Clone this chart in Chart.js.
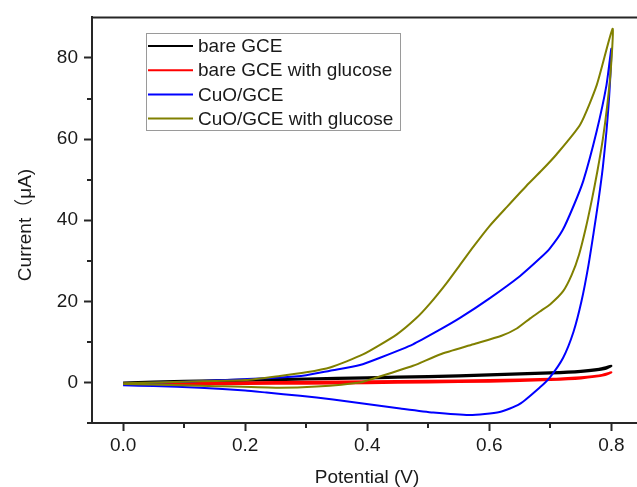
<!DOCTYPE html>
<html>
<head>
<meta charset="utf-8">
<title>CV curves</title>
<script src="https://cdn.jsdelivr.net/npm/chart.js@4.4.1/dist/chart.umd.min.js"></script>
<style>
  html, body { margin: 0; padding: 0; background: #fff; overflow: hidden; }
  #cv { display: block; }
</style>
</head>
<body>
<canvas id="cv" width="637" height="487"></canvas>
<script>
// Series names (legend order)
const seriesNames = ['bare GCE', 'bare GCE with glucose', 'CuO/GCE', 'CuO/GCE with glucose'];

// bare GCE
const bareV = [0, 0.1, 0.2, 0.3, 0.4, 0.5, 0.6, 0.7, 0.75, 0.78, 0.8, 0.79, 0.75, 0.7, 0.6, 0.5, 0.4, 0.3, 0.2, 0.1, 0];
const bareI = [0.0, 0.4, 0.7, 1.0, 1.3, 1.6, 2.0, 2.5, 2.9, 3.4, 4.1, 3.3, 2.6, 2.2, 1.7, 1.3, 1.0, 0.7, 0.4, 0.1, -0.2];

// bare GCE with glucose
const bareGluV = [0, 0.1, 0.2, 0.3, 0.4, 0.5, 0.6, 0.7, 0.75, 0.78, 0.8, 0.79, 0.75, 0.7, 0.6, 0.5, 0.4, 0.3, 0.2, 0.1, 0];
const bareGluI = [-0.3, -0.1, 0.0, 0.2, 0.3, 0.4, 0.6, 0.9, 1.3, 1.7, 2.5, 1.8, 1.0, 0.6, 0.2, 0.0, -0.2, -0.3, -0.4, -0.5, -0.5];

// CuO/GCE
const cuoV = [0, 0.1, 0.2, 0.257, 0.3, 0.339, 0.388, 0.421, 0.475, 0.519, 0.552, 0.601, 0.65, 0.683, 0.699, 0.72, 0.738, 0.754, 0.776, 0.792, 0.8,
              0.797, 0.792, 0.786, 0.779, 0.771, 0.762, 0.751, 0.738, 0.721, 0.699, 0.683, 0.65, 0.617, 0.568, 0.508, 0.454, 0.399, 0.344, 0.29, 0.235, 0.2, 0.126, 0.05, 0];
const cuoI = [-0.3, 0.2, 0.8, 1.2, 1.8, 2.9, 4.3, 6.1, 9.4, 13.0, 15.9, 20.8, 26.2, 30.6, 33.0, 37.5, 43.5, 49.7, 62.0, 73.3, 82.3,
              72.0, 62.0, 53.0, 45.0, 37.0, 28.5, 20.0, 12.5, 6.1, 1.2, -1.2, -5.3, -7.3, -8.0, -7.4, -6.4, -5.3, -4.2, -3.3, -2.5, -2.0, -1.3, -0.9, -0.7];

// CuO/GCE with glucose
const cuoGluV = [0, 0.1, 0.2, 0.257, 0.3, 0.339, 0.393, 0.448, 0.48, 0.503, 0.53, 0.552, 0.574, 0.6, 0.629, 0.661, 0.686, 0.71, 0.749, 0.776, 0.802,
                 0.799, 0.793, 0.786, 0.777, 0.768, 0.758, 0.747, 0.735, 0.721, 0.7, 0.683, 0.667, 0.645, 0.62, 0.574, 0.519, 0.475, 0.415, 0.388, 0.317, 0.25, 0.126, 0];
const cuoGluI = [-0.2, 0.2, 0.6, 1.6, 2.5, 3.7, 6.9, 11.8, 15.8, 19.5, 24.5, 29.0, 33.5, 38.5, 43.3, 48.5, 52.3, 56.2, 63.6, 73.3, 87.2,
                 77.0, 68.0, 60.0, 52.0, 45.0, 38.0, 31.5, 26.5, 22.5, 19.3, 17.5, 15.8, 13.3, 11.5, 9.4, 6.9, 4.1, 1.2, 0.0, -1.0, -1.3, -0.8, -0.4];

// Ticks
const xMajor = [0, 0.2, 0.4, 0.6, 0.8];
const xMinor = [0.1, 0.3, 0.5, 0.7];
const yMajor = [0, 20, 40, 60, 80];
const yMinor = [-10, 10, 30, 50, 70];

const colors = ['#000000', '#ff0000', '#0000ff', '#808000'];
const axisColor = '#262626';
const fontFamily = "'Liberation Sans', Arial, 'Noto Sans CJK SC', sans-serif";

function toPoints(xs, ys) {
    return xs.map((x, i) => ({ x: x, y: ys[i] }));
}

const seriesData = [
    toPoints(bareV, bareI),
    toPoints(bareGluV, bareGluI),
    toPoints(cuoV, cuoI),
    toPoints(cuoGluV, cuoGluI)
];

// legend, top border, minor ticks and axis titles
const extras = {
    id: 'extras',
    afterDraw(chart) {
        const ctx = chart.ctx;
        const area = chart.chartArea;
        const xs = chart.scales.x;
        const ys = chart.scales.y;
        ctx.save();

        ctx.strokeStyle = axisColor;
        ctx.lineWidth = 2;
        ctx.beginPath();
        ctx.moveTo(area.left - 1, area.top);
        ctx.lineTo(area.right, area.top);
        ctx.stroke();

        // minor ticks
        ctx.beginPath();
        xMinor.forEach(v => {
            const px = Math.round(xs.getPixelForValue(v));
            ctx.moveTo(px, area.bottom);
            ctx.lineTo(px, area.bottom + 5);
        });
        yMinor.forEach(v => {
            const py = Math.round(ys.getPixelForValue(v));
            ctx.moveTo(area.left, py);
            ctx.lineTo(area.left - 5, py);
        });
        ctx.stroke();

        // legend box
        const lx = 146.5, ly = 33.5, lw = 254, lh = 97;
        ctx.fillStyle = '#fff';
        ctx.fillRect(lx, ly, lw, lh);
        ctx.strokeStyle = '#9a9a9a';
        ctx.lineWidth = 1;
        ctx.strokeRect(lx, ly, lw, lh);
        ctx.font = '19px ' + fontFamily;
        ctx.textBaseline = 'middle';
        ctx.textAlign = 'left';
        seriesNames.forEach((name, i) => {
            const y = 46 + i * 24.2;
            ctx.strokeStyle = colors[i];
            ctx.lineWidth = 2;
            ctx.beginPath();
            ctx.moveTo(148, y);
            ctx.lineTo(193, y);
            ctx.stroke();
            ctx.fillStyle = '#1a1a1a';
            ctx.fillText(name, 198, y + 1);
        });

        // axis titles
        ctx.fillStyle = '#1a1a1a';
        ctx.font = '19px ' + fontFamily;
        ctx.textAlign = 'center';
        ctx.textBaseline = 'alphabetic';
        ctx.fillText('Potential (V)', 367, 483);
        ctx.translate(31, 225);
        ctx.rotate(-Math.PI / 2);
        ctx.fillText('Current（μA)', 0, 0);

        ctx.restore();
    }
};

new Chart(document.getElementById('cv').getContext('2d'), {
    type: 'scatter',
    data: {
        datasets: seriesNames.map((name, i) => ({
            label: name,
            data: seriesData[i],
            showLine: true,
            borderColor: colors[i],
            backgroundColor: colors[i],
            borderWidth: 2,
            pointRadius: 0,
            tension: 0.2,
            order: 4 - i
        }))
    },
    options: {
        responsive: false,
        animation: false,
        layout: { padding: { top: 13, left: 0, right: 0, bottom: 0 } },
        plugins: {
            legend: { display: false },
            tooltip: { enabled: false }
        },
        scales: {
            x: {
                type: 'linear',
                min: -0.051,
                max: 0.842,
                afterBuildTicks: scale => {
                    scale.ticks = xMajor.concat(xMinor).sort((a, b) => a - b).map(v => ({ value: v }));
                },
                afterFit: scale => { scale.height = 64; },
                ticks: {
                    autoSkip: false,
                    maxRotation: 0,
                    padding: 3,
                    color: '#1a1a1a',
                    font: { family: fontFamily, size: 19 },
                    callback: v => xMajor.includes(v) ? v.toFixed(1) : ''
                },
                grid: {
                    drawOnChartArea: false,
                    drawTicks: true,
                    tickLength: 8,
                    tickWidth: 2,
                    tickColor: c => xMajor.includes(c.tick.value) ? axisColor : 'rgba(0,0,0,0)'
                },
                border: { color: axisColor, width: 2 }
            },
            y: {
                type: 'linear',
                min: -10,
                max: 90,
                afterBuildTicks: scale => {
                    scale.ticks = yMajor.concat(yMinor).sort((a, b) => a - b).map(v => ({ value: v }));
                },
                afterFit: scale => { scale.width = 92; },
                ticks: {
                    autoSkip: false,
                    padding: 6,
                    color: '#1a1a1a',
                    font: { family: fontFamily, size: 19 },
                    callback: v => yMajor.includes(v) ? String(v) : ''
                },
                grid: {
                    drawOnChartArea: false,
                    drawTicks: true,
                    tickLength: 8,
                    tickWidth: 2,
                    tickColor: c => yMajor.includes(c.tick.value) ? axisColor : 'rgba(0,0,0,0)'
                },
                border: { color: axisColor, width: 2 }
            }
        }
    },
    plugins: [extras]
});
</script>
</body>
</html>
